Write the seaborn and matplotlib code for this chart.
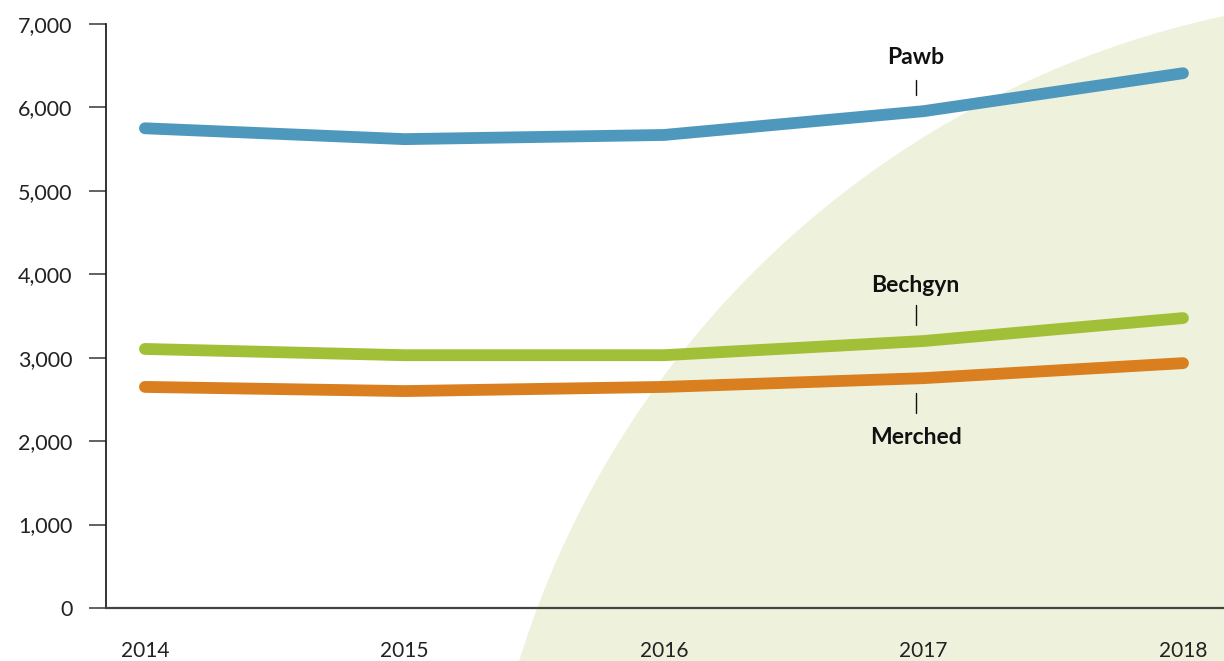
import seaborn as sns
import pandas as pd
import matplotlib.pyplot as plt
from matplotlib.patches import Circle
from matplotlib.transforms import IdentityTransform
from matplotlib.ticker import FuncFormatter

years = [2014, 2015, 2016, 2017, 2018]
pawb = [5750, 5620, 5670, 5955, 6410]
bechgyn = [3105, 3030, 3030, 3200, 3475]
merched = [2650, 2600, 2650, 2755, 2935]
series_names = ["Pawb", "Bechgyn", "Merched"]
series_colors = ["#4f98bd", "#a1c037", "#d97f1f"]

df = pd.DataFrame({
    "year": years * 3,
    "value": pawb + bechgyn + merched,
    "group": [n for n in series_names for _ in years],
})

sns.set_style("white")
plt.rcParams['font.family'] = ['Lato', 'DejaVu Sans']

fig = plt.figure(figsize=(12.24, 6.61), dpi=100)
fig.patch.set_facecolor("white")

# big pale green disc in the background (pixel coordinates)
disc = Circle((1422, 661 - 940), 945, transform=IdentityTransform(),
              facecolor="#eef2dc", edgecolor="none", zorder=-10)
fig.patches.append(disc)

ax = fig.add_axes([106 / 1224, 53 / 661, 1 - 106 / 1224, 584 / 661])
ax.set_facecolor("none")
ax.set_zorder(5)

sns.lineplot(data=df, x="year", y="value", hue="group", hue_order=series_names,
             palette=series_colors, linewidth=8.5, legend=False, ax=ax,
             solid_capstyle="round", solid_joinstyle="round")

ax.set_xlim(2013.85, 2018.158)
ax.set_ylim(0, 7000)
ax.set_xticks(years)
ax.set_yticks(range(0, 7001, 1000))
ax.yaxis.set_major_formatter(FuncFormatter(lambda v, p: f"{int(v):,}"))
ax.set_xlabel("")
ax.set_ylabel("")

for s in ["top", "right"]:
    ax.spines[s].set_visible(False)
ax.spines["left"].set_color("#111111")
ax.spines["left"].set_linewidth(1.2)
ax.spines["bottom"].set_color("#444444")
ax.spines["bottom"].set_linewidth(1.6)

ax.tick_params(axis="y", length=12, width=1.3, color="#555555", pad=12,
               labelsize=15.5, labelcolor="#222222", left=True)
ax.tick_params(axis="x", length=0, pad=24, labelsize=15, labelcolor="#222222")

# series labels with small leader ticks near 2017
label_x = 2016.97
labels = [("Pawb", 6604, 6329, 6149),
          ("Bechgyn", 3860, 3632, 3392),
          ("Merched", 2038, 2577, 2337)]
for name, ty, y0, y1 in labels:
    ax.text(label_x, ty, name, ha="center", va="center", fontsize=16.5,
            fontweight="bold", color="#111111")
    ax.plot([label_x, label_x], [y0, y1], color="#111111", linewidth=1)

fig.savefig("out.png", dpi=100)
